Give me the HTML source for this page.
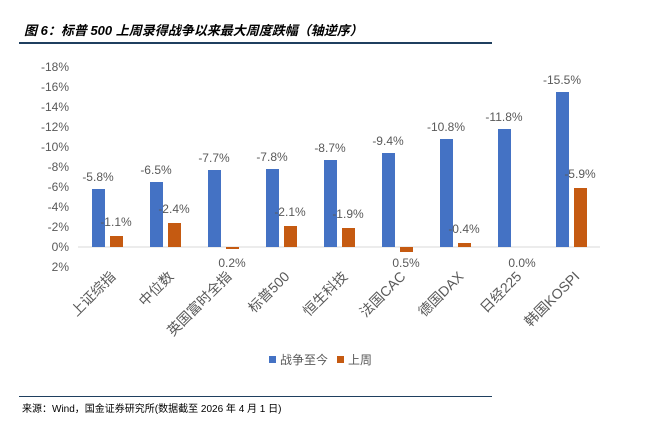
<!DOCTYPE html>
<html><head><meta charset="utf-8"><style>
body{margin:0;background:#fff;width:664px;height:421px;overflow:hidden;font-family:"Liberation Sans","Noto Sans CJK SC",sans-serif;}
#title{position:absolute;left:24px;top:20px;font-size:13px;font-weight:bold;font-style:italic;color:#000;}
#tline{position:absolute;left:19px;top:42px;width:473px;height:2px;background:#1f3f5f;}
#bline{position:absolute;left:19px;top:396px;width:473px;height:1px;background:#1f3f5f;}
#src{position:absolute;left:22px;top:400px;font-size:10px;color:#000;}
</style></head><body>
<div id="title">图 6：标普 500 上周录得战争以来最大周度跌幅（轴逆序）</div>
<div id="tline"></div>
<svg id="chart" width="664" height="421" style="position:absolute;left:0;top:0"></svg>
<div id="bline"></div>
<div id="src">来源：Wind，国金证券研究所(数据截至 2026 年 4 月 1 日)</div>
<script>
const categories=["上证综指","中位数","英国富时全指","标普500","恒生科技","法国CAC","德国DAX","日经225","韩国KOSPI"];
const warValues=[-5.8,-6.5,-7.7,-7.8,-8.7,-9.4,-10.8,-11.8,-15.5];
const weekValues=[-1.1,-2.4,0.2,-2.1,-1.9,0.5,-0.4,0.0,-5.9];
const yTicks=[-18,-16,-14,-12,-10,-8,-6,-4,-2,0,2];
const seriesNames=["战争至今","上周"];
const colors=["#4472C4","#C55A11"];
const svg=document.getElementById('chart');
const NS='http://www.w3.org/2000/svg';
const x0=78,band=58,y0=247,pxPer=10;
const y=v=>y0+v*pxPer;
const xc=i=>x0+band*i+band/2;
function mk(t,a,txt){const e=document.createElementNS(NS,t);for(const k in a)e.setAttribute(k,a[k]);if(txt!==undefined)e.textContent=txt;svg.appendChild(e);return e;}
yTicks.forEach(t=>{
 const e=mk('text',{x:69,y:y(t)+4,'text-anchor':'end','font-size':12,fill:'#595959'},(t===0?'0':t)+'%');
 
 
});
const ax=mk('line',{x1:x0,x2:x0+band*categories.length,y1:y0,y2:y0,stroke:'#d9d9d9'});


function fmt(v){return (v===0?'0.0':(v<0?'-':'')+Math.abs(v).toFixed(1))+'%';}
categories.forEach((c,i)=>{
 [warValues,weekValues].forEach((arr,s)=>{
  const v=arr[i];const bx=xc(i)-15+s*18;
  const top=Math.min(y(v),y0),h=Math.abs(y(v)-y0);
  const r=mk('rect',{x:bx,y:top,width:13,height:Math.max(h,0),fill:colors[s]});
  
  
  const ly=v<0?(s?y(v)-10:y(v)-8):(s?y0+20:y(v)-8);
  const lx=s?bx+6:bx+6;
  const l=mk('text',{x:lx,y:ly,'text-anchor':'middle','font-size':12,fill:'#595959'},fmt(v));
  
  
 });
 const tx=xc(i)+2,ty=270;
 const t=mk('text',{x:tx,y:ty,'text-anchor':'end','dominant-baseline':'hanging','font-size':14,fill:'#595959',transform:`rotate(-45 ${tx} ${ty})`},c);
 
 
});
seriesNames.forEach((n,s)=>{
 const lx=269+s*68;
 const r=mk('rect',{x:lx,y:356,width:7,height:7,fill:colors[s]});
 
 
 const t=mk('text',{x:lx+11,y:364,'font-size':12,fill:'#595959'},n);
 
 
});
</script>
</body></html>
